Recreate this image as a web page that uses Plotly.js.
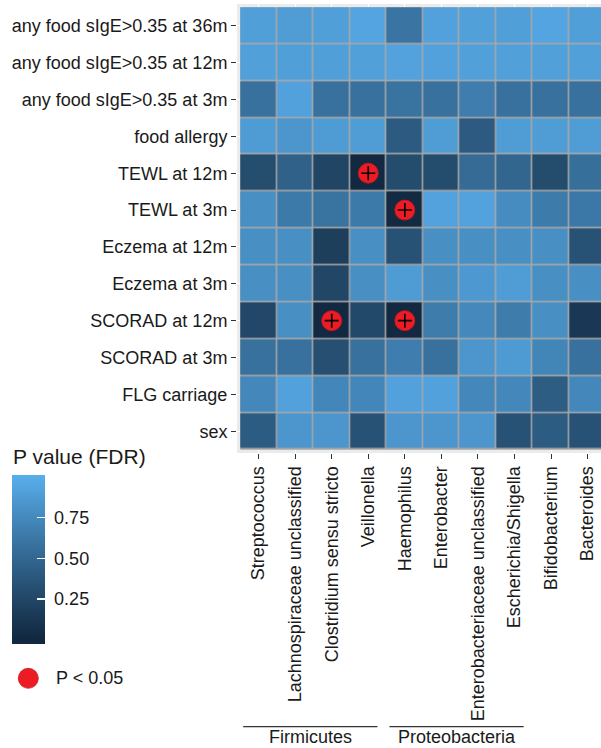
<!DOCTYPE html>
<html>
<head>
<meta charset="utf-8">
<script src="https://cdn.plot.ly/plotly-3.0.1.min.js"></script>
<style>
  html, body { margin: 0; padding: 0; background: #ffffff; }
  #chart { width: 601px; height: 748px; }
</style>
</head>
<body>
<div id="chart"></div>
<script>
// Clinical outcomes (rows, top to bottom) and taxa (columns)
const outcomes = [
  "any food sIgE>0.35 at 36m",
  "any food sIgE>0.35 at 12m",
  "any food sIgE>0.35 at 3m",
  "food allergy",
  "TEWL at 12m",
  "TEWL at 3m",
  "Eczema at 12m",
  "Eczema at 3m",
  "SCORAD at 12m",
  "SCORAD at 3m",
  "FLG carriage",
  "sex"
];
const taxa = [
  "Streptococcus",
  "Lachnospiraceae unclassified",
  "Clostridium sensu stricto",
  "Veillonella",
  "Haemophilus",
  "Enterobacter",
  "Enterobacteriaceae unclassified",
  "Escherichia/Shigella",
  "Bifidobacterium",
  "Bacteroides"
];
const phylum = [
  "Firmicutes", "Firmicutes", "Firmicutes", "Firmicutes",
  "Proteobacteria", "Proteobacteria", "Proteobacteria", "Proteobacteria",
  null, null
];

// FDR-adjusted P values, one array per outcome, in taxa order
const sIgE36m   = [0.90, 0.89, 0.90, 0.94, 0.60, 0.92, 0.91, 0.90, 0.94, 0.90];
const sIgE12m   = [0.91, 0.90, 0.90, 0.91, 0.93, 0.92, 0.91, 0.91, 0.91, 0.91];
const sIgE3m    = [0.58, 0.92, 0.58, 0.58, 0.59, 0.58, 0.67, 0.58, 0.58, 0.58];
const foodAllergy = [0.88, 0.84, 0.88, 0.89, 0.41, 0.89, 0.41, 0.89, 0.89, 0.89];
const tewl12m   = [0.30, 0.46, 0.24, 0.01, 0.29, 0.29, 0.53, 0.49, 0.29, 0.56];
const tewl3m    = [0.79, 0.64, 0.59, 0.64, 0.02, 0.93, 0.93, 0.77, 0.65, 0.63];
const eczema12m = [0.79, 0.79, 0.19, 0.79, 0.34, 0.79, 0.79, 0.79, 0.79, 0.34];
const eczema3m  = [0.79, 0.79, 0.25, 0.79, 0.88, 0.79, 0.86, 0.89, 0.79, 0.79];
const scorad12m = [0.26, 0.79, 0.01, 0.27, 0.01, 0.66, 0.75, 0.66, 0.79, 0.14];
const scorad3m  = [0.58, 0.58, 0.32, 0.58, 0.67, 0.58, 0.84, 0.87, 0.72, 0.58];
const flgCarriage = [0.74, 0.92, 0.73, 0.73, 0.92, 0.92, 0.74, 0.74, 0.43, 0.74];
const sex       = [0.42, 0.84, 0.84, 0.34, 0.84, 0.84, 0.84, 0.34, 0.42, 0.34];

const pRows = [sIgE36m, sIgE12m, sIgE3m, foodAllergy, tewl12m, tewl3m,
               eczema12m, eczema3m, scorad12m, scorad3m, flgCarriage, sex];

const SIG_LEVEL = 0.05;
const colorbarTicks = [0.25, 0.50, 0.75];

// ---- layout constants (pixels) ----
const W = 601, H = 748;
const M = { l: 237, r: 0, t: 4, b: 295 };
const plotW = W - M.l - M.r, plotH = H - M.t - M.b;
const FONT = "'Liberation Sans', Arial, Helvetica, sans-serif";
const TEXT = "#1a1a1a";
const px = v => (v - M.l) / plotW;          // pixel x -> paper x
const py = v => (H - M.b - v) / plotH;      // pixel y -> paper y

// ---- gradient from dark navy to light blue, interpolated in CIELAB ----
const LOW = "#11283F", HIGH = "#58ADEB";
function hexToRgb(h) { return [1, 3, 5].map(i => parseInt(h.substr(i, 2), 16)); }
function toLin(c) { c /= 255; return c <= 0.04045 ? c / 12.92 : Math.pow((c + 0.055) / 1.055, 2.4); }
function fromLin(c) {
  c = c <= 0.0031308 ? 12.92 * c : 1.055 * Math.pow(c, 1 / 2.4) - 0.055;
  return Math.round(Math.min(1, Math.max(0, c)) * 255);
}
function rgbToLab(rgb) {
  const [R, G, B] = rgb.map(toLin);
  const X = (0.4124564 * R + 0.3575761 * G + 0.1804375 * B) / 0.95047;
  const Y = 0.2126729 * R + 0.7151522 * G + 0.0721750 * B;
  const Z = (0.0193339 * R + 0.1191920 * G + 0.9503041 * B) / 1.08883;
  const f = t => t > 0.008856 ? Math.cbrt(t) : 7.787 * t + 16 / 116;
  const fx = f(X), fy = f(Y), fz = f(Z);
  return [116 * fy - 16, 500 * (fx - fy), 200 * (fy - fz)];
}
function labToRgb(lab) {
  const [L, a, b] = lab;
  const fy = (L + 16) / 116, fx = fy + a / 500, fz = fy - b / 200;
  const inv = t => (t * t * t > 0.008856 ? t * t * t : (t - 16 / 116) / 7.787);
  const X = inv(fx) * 0.95047, Y = inv(fy), Z = inv(fz) * 1.08883;
  const R = 3.2404542 * X - 1.5371385 * Y - 0.4985314 * Z;
  const G = -0.9692660 * X + 1.8760108 * Y + 0.0415560 * Z;
  const B = 0.0556434 * X - 0.2040259 * Y + 1.0572252 * Z;
  return [fromLin(R), fromLin(G), fromLin(B)];
}
const labLow = rgbToLab(hexToRgb(LOW)), labHigh = rgbToLab(hexToRgb(HIGH));
function gradient(t) {
  t = Math.min(1, Math.max(0, t));
  const c = labToRgb(labLow.map((v, i) => v + (labHigh[i] - v) * t));
  return `rgb(${c[0]},${c[1]},${c[2]})`;
}

// colour bar spans slightly beyond [0, 1] so the ticks sit inset from its ends
const zmin = -0.027, zmax = 1.013;
const colorscale = [];
for (let i = 0; i <= 40; i++) {
  const f = i / 40;
  colorscale.push([f, gradient(zmin + f * (zmax - zmin))]);
}

// ---- significant cells ----
const sigX = [], sigY = [];
pRows.forEach((row, r) => row.forEach((p, c) => {
  if (p < SIG_LEVEL) { sigX.push(taxa[c]); sigY.push(outcomes[r]); }
}));

const heat = {
  type: "heatmap",
  x: taxa, y: outcomes, z: pRows,
  zmin: zmin, zmax: zmax,
  colorscale: colorscale,
  xgap: 1.5, ygap: 1.5,
  hoverinfo: "skip",
  colorbar: {
    xref: "paper", yref: "paper",
    x: px(11.7), xanchor: "left",
    y: py(475), yanchor: "top",
    lenmode: "pixels", len: 169,
    thicknessmode: "pixels", thickness: 33,
    xpad: 0, ypad: 0,
    outlinewidth: 0,
    tickvals: colorbarTicks,
    // non-breaking space keeps the labels clear of the bar edge
    ticktext: colorbarTicks.map(v => "\u00A0" + v.toFixed(2)),
    ticks: "inside", ticklen: 8, tickwidth: 1.3, tickcolor: "#ffffff",
    tickfont: { family: FONT, size: 18, color: TEXT }
  }
};

const sigDots = {
  type: "scatter", mode: "markers",
  x: sigX, y: sigY,
  marker: { size: 20, color: "#ED1C24", line: { color: "#C41A1F", width: 0.8 } },
  hoverinfo: "skip"
};
const sigPlus = {
  type: "scatter", mode: "markers",
  x: sigX, y: sigY,
  marker: { symbol: "cross-thin", size: 10, line: { color: "#000000", width: 1.6 } },
  hoverinfo: "skip"
};

// ---- grid backing (above gridlines, below tiles) and phylum brackets ----
const shapes = [{
  type: "rect", layer: "between",
  xref: "x", yref: "y",
  x0: -0.5, x1: taxa.length - 0.5, y0: -0.5, y1: outcomes.length - 0.5,
  fillcolor: "#A9A9A9", line: { width: 0 }
}];
const annotations = [];
const groups = [];
phylum.forEach((p, i) => {
  if (!p) return;
  const g = groups.find(o => o.name === p);
  if (g) g.last = i; else groups.push({ name: p, first: i, last: i });
});
const lineY = py(726.7), labelY = py(737);
groups.forEach(g => {
  const x0 = g.first - 0.5 + 0.08, x1 = g.last + 0.5 - 0.25;
  shapes.push({
    type: "line", xref: "x", yref: "paper",
    x0: x0, x1: x1, y0: lineY, y1: lineY,
    line: { color: "#333333", width: 1.2 }
  });
  annotations.push({
    xref: "x", yref: "paper", x: (x0 + x1) / 2, y: labelY,
    xanchor: "center", yanchor: "middle", showarrow: false,
    text: g.name, font: { family: FONT, size: 18, color: TEXT }
  });
});

// ---- legend: colour bar title and significance key ----
annotations.push({
  xref: "paper", yref: "paper", x: px(10.5), y: py(456),
  xanchor: "left", yanchor: "middle", showarrow: false,
  text: "P value (FDR)", font: { family: FONT, size: 21, color: TEXT }
});
shapes.push({
  type: "circle", xref: "paper", yref: "paper",
  x0: px(18.3), x1: px(38.3), y0: py(688.3), y1: py(668.3),
  fillcolor: "#ED1C24", line: { color: "#C41A1F", width: 0.8 }
});
annotations.push({
  xref: "paper", yref: "paper", x: px(53.5), y: py(678),
  xanchor: "left", yanchor: "middle", showarrow: false,
  text: "P &lt; " + SIG_LEVEL.toFixed(2), font: { family: FONT, size: 18, color: TEXT }
});

const axisCommon = {
  type: "category",
  ticks: "outside", ticklen: 5, tickwidth: 1.1, tickcolor: "#333333",
  showgrid: true, gridcolor: "#ffffff", gridwidth: 1.1,
  zeroline: false, showline: false,
  tickfont: { family: FONT, size: 18, color: TEXT },
  fixedrange: true
};

const layout = {
  width: W, height: H,
  margin: { l: M.l, r: M.r, t: M.t, b: M.b, pad: 0 },
  paper_bgcolor: "#ffffff",
  plot_bgcolor: "#EBEBEB",
  showlegend: false,
  xaxis: Object.assign({}, axisCommon, {
    categoryorder: "array", categoryarray: taxa,
    range: [-0.59, 9.366], tickangle: -90
  }),
  yaxis: Object.assign({}, axisCommon, {
    categoryorder: "array", categoryarray: outcomes,
    range: [outcomes.length - 0.41, -0.59]
  }),
  shapes: shapes,
  annotations: annotations
};

Plotly.newPlot("chart", [heat, sigDots, sigPlus], layout, { staticPlot: true, displayModeBar: false });
</script>
</body>
</html>
